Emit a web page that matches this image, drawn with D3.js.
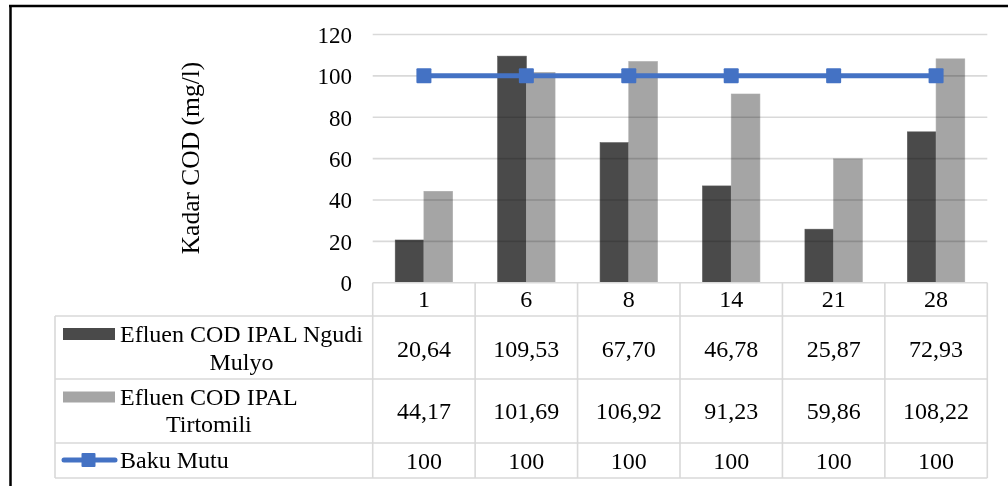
<!DOCTYPE html>
<html>
<head>
<meta charset="utf-8">
<script src="https://cdn.jsdelivr.net/npm/d3@7"></script>
<style>
  html, body { margin: 0; padding: 0; background: #fff; }
  svg { display: block; }
  text { font-family: "Liberation Serif", "Times New Roman", serif; fill: #000; }
</style>
</head>
<body>
<svg id="chart" width="1008" height="486"></svg>
<script>
// Sampling days (hari ke-)
const categories = ["1", "6", "8", "14", "21", "28"];
// COD effluent, IPAL Ngudi Mulyo (mg/l)
const ngudiMulyo = [20.64, 109.53, 67.70, 46.78, 25.87, 72.93];
// COD effluent, IPAL Tirtomili (mg/l)
const tirtomili = [44.17, 101.69, 106.92, 91.23, 59.86, 108.22];
// Quality standard (baku mutu)
const bakuMutu = [100, 100, 100, 100, 100, 100];
const yTicks = [0, 20, 40, 60, 80, 100, 120];
const seriesNames = [["Efluen COD IPAL Ngudi", "Mulyo"], ["Efluen COD IPAL", "Tirtomili"], ["Baku Mutu"]];

const fmt = v => (Number.isInteger(v) ? String(v) : v.toFixed(2).replace(".", ","));

const svg = d3.select("#chart");
const colDark = "#4a4a4a", colLight = "#a5a5a5", colLine = "#4472c4", colGrid = "#d9d9d9";
const tableFont = 24;

const plotLeft = 372.7, plotRight = 987.3, plotTop = 34.5, plotBottom = 282.7;
const tableLeft = 55;
const rowEdges = [plotBottom, 316, 379, 443, 478];

const x = d3.scaleBand().domain(categories).range([plotLeft, plotRight]).paddingInner(0).paddingOuter(0);
const xs = d3.scaleBand().domain([0, 1]).range([0, x.bandwidth()]).paddingInner(0).paddingOuter(0.784);
const y = d3.scaleLinear().domain([0, 120]).range([plotBottom, plotTop]);

// Outer frame
svg.append("path").attr("d", "M9,6 H1008 M10.5,5 V486")
  .attr("stroke", "#000").attr("stroke-width", 2.5).attr("fill", "none");

// Bars
const barData = [ngudiMulyo, tirtomili];
const barColors = [colDark, colLight];
barData.forEach((vals, si) => {
  svg.append("g").selectAll("rect").data(vals).join("rect")
    .attr("x", (d, i) => x(categories[i]) + xs(si))
    .attr("width", xs.bandwidth())
    .attr("y", d => y(d))
    .attr("height", d => y(0) - y(d))
    .attr("fill", barColors[si])
    .attr("stroke", si === 0 ? "#555" : "#aaa").attr("stroke-width", 0.6);
});

// Gridlines (blended over the bars)
svg.append("g").style("mix-blend-mode", "multiply").selectAll("line").data(yTicks.filter(t => t > 0)).join("line")
  .attr("x1", plotLeft).attr("x2", plotRight)
  .attr("y1", d => y(d)).attr("y2", d => y(d))
  .attr("stroke", colGrid).attr("stroke-width", 1.6);

// Y axis labels (no axis line)
const yAxis = d3.axisLeft(y).tickValues(yTicks).tickSize(0).tickPadding(0).tickFormat(d3.format("d"));
const gy = svg.append("g").attr("transform", `translate(352,0)`).call(yAxis);
gy.select(".domain").remove();
gy.selectAll("text").attr("font-size", 23).attr("font-family", "Liberation Serif").attr("fill", "#000").attr("dy", "0.34em");

// Y axis title
svg.append("text").attr("transform", "translate(199,158) rotate(-90)")
  .attr("text-anchor", "middle").attr("font-size", 25.5).text("Kadar COD (mg/l)");

// Baku Mutu line with square markers
const cx = c => x(c) + x.bandwidth() / 2;
svg.append("path").datum(bakuMutu)
  .attr("d", d3.line().x((d, i) => cx(categories[i])).y(d => y(d)))
  .attr("fill", "none").attr("stroke", colLine).attr("stroke-width", 5);
svg.append("g").selectAll("rect").data(bakuMutu).join("rect")
  .attr("x", (d, i) => cx(categories[i]) - 7.5).attr("y", d => y(d) - 7.5)
  .attr("width", 15).attr("height", 15).attr("rx", 1).attr("fill", colLine);

// Data table grid
const tg = svg.append("g").attr("stroke", colGrid).attr("stroke-width", 1.6).attr("fill", "none");
tg.append("line").attr("x1", plotLeft).attr("x2", plotRight).attr("y1", rowEdges[0]).attr("y2", rowEdges[0]);
rowEdges.slice(1).forEach(r => tg.append("line").attr("x1", tableLeft).attr("x2", plotRight).attr("y1", r).attr("y2", r));
const colEdges = categories.map(c => x(c)).concat([plotRight]);
colEdges.forEach(cxp => tg.append("line").attr("x1", cxp).attr("x2", cxp).attr("y1", rowEdges[0]).attr("y2", rowEdges[4]));
tg.append("line").attr("x1", tableLeft).attr("x2", tableLeft).attr("y1", rowEdges[1]).attr("y2", rowEdges[4]);

// Category labels
svg.append("g").selectAll("text").data(categories).join("text")
  .attr("x", d => cx(d)).attr("y", 306.5).attr("text-anchor", "middle").attr("font-size", tableFont).text(d => d);

// Value rows
const rows = [ngudiMulyo, tirtomili, bakuMutu];
const rowBaselines = [357, 419, 469];
rows.forEach((vals, ri) => {
  svg.append("g").selectAll("text").data(vals).join("text")
    .attr("x", (d, i) => cx(categories[i])).attr("y", rowBaselines[ri])
    .attr("text-anchor", "middle").attr("font-size", tableFont).text(d => fmt(d));
});

// Legend keys
svg.append("rect").attr("x", 63).attr("y", 328).attr("width", 52).attr("height", 12).attr("fill", colDark);
svg.append("rect").attr("x", 63).attr("y", 391.5).attr("width", 52).attr("height", 11).attr("fill", colLight);
svg.append("line").attr("x1", 64).attr("x2", 115).attr("y1", 460).attr("y2", 460)
  .attr("stroke", colLine).attr("stroke-width", 5).attr("stroke-linecap", "round");
svg.append("rect").attr("x", 81.5).attr("y", 453).attr("width", 14).attr("height", 14).attr("rx", 1).attr("fill", colLine);

// Legend labels (lines centred on each other, block starting after the key)
const labelStarts = [[342, 369.5], [405, 432], [468]];
seriesNames.forEach((lines, si) => {
  const g = svg.append("g");
  const ts = lines.map((ln, li) => g.append("text").attr("y", labelStarts[si][li]).attr("font-size", tableFont).text(ln));
  const maxW = d3.max(ts, t => t.node().getComputedTextLength());
  ts.forEach(t => t.attr("x", 120 + maxW / 2).attr("text-anchor", "middle"));
});
</script>
</body>
</html>
